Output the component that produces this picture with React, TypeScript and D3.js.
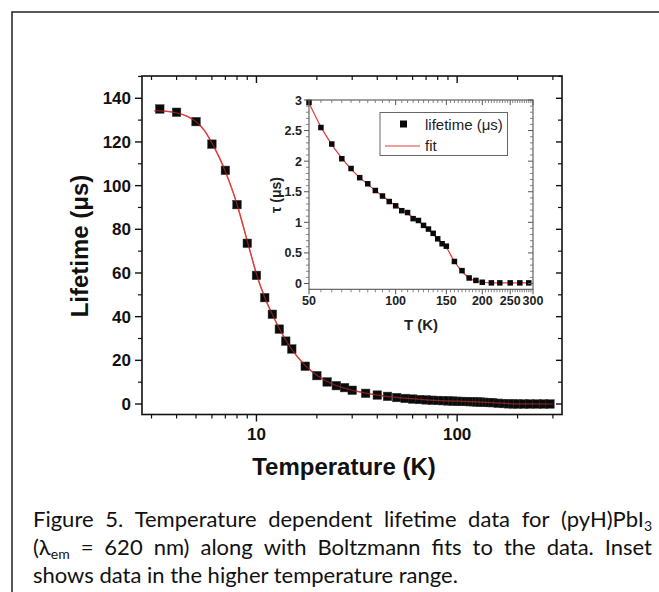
import React from 'react';
import * as d3 from 'd3';

// ---- Data ----
const lowTemps = [3.3, 4, 5, 6, 7, 8, 9, 10, 11, 12, 13, 14, 15, 17.5, 20, 22.5, 25, 27.5, 30, 35, 40, 45];
const lowLifetimes = [135.1, 133.6, 129.3, 119.0, 107.0, 91.3, 73.6, 58.9, 48.7, 41.1, 34.3, 28.8, 25.2, 17.3, 13.0, 10.1, 8.4, 7.5, 6.3, 4.9, 4.1, 3.5];

const highTemps = [50, 55, 60, 65, 70, 75, 80, 85, 90, 95, 100, 105, 110, 115, 120, 125, 130, 135, 140, 145, 150, 160, 170, 180, 190, 200, 215, 230, 250, 270, 290];
const highLifetimes = [2.96, 2.55, 2.28, 2.04, 1.88, 1.73, 1.63, 1.52, 1.43, 1.34, 1.27, 1.19, 1.16, 1.06, 1.03, 0.95, 0.89, 0.82, 0.73, 0.65, 0.61, 0.36, 0.21, 0.09, 0.05, 0.02, 0.01, 0.01, 0.01, 0.01, 0.01];

const mainFitT = [3.1, 3.5, 4, 4.5, 5, 5.5, 6, 6.5, 7, 7.5, 8, 8.5, 9, 9.5, 10, 11, 12, 13, 14, 15, 17.5, 20, 22.5, 25, 30, 35, 40, 50, 70, 100, 150, 200, 300];
const mainFitV = [134.3, 134.1, 133.3, 131.8, 129.3, 125.3, 119.5, 113.3, 106.5, 99.2, 91.5, 83, 74.6, 66.8, 59.5, 48.8, 41, 34.6, 29.3, 25, 17.6, 13.2, 10.3, 8.5, 6.3, 5, 4.1, 3, 1.9, 1.3, 0.6, 0.05, 0];

const insetFitT = [50, 55, 60, 65, 70, 80, 90, 100, 110, 120, 130, 140, 150, 160, 170, 180, 190, 200, 220, 250, 295];
const insetFitV = [2.95, 2.56, 2.27, 2.05, 1.87, 1.62, 1.43, 1.27, 1.14, 1.02, 0.88, 0.73, 0.59, 0.36, 0.2, 0.09, 0.04, 0.02, 0.01, 0.01, 0.01];

const mainYTicks = [0, 20, 40, 60, 80, 100, 120, 140];
const mainXTicks = [10, 100];
const insetYTicks = [0, 0.5, 1, 1.5, 2, 2.5, 3];
const insetYLabels = ['0', '0.5', '1', '1.5', '2', '2.5', '3'];
const insetXTicks = [50, 100, 150, 200, 250, 300];

type Seg = [string, boolean];
const captionLine1: Seg[][] = [
  [['Figure', false]], [['5.', false]], [['Temperature', false]], [['dependent', false]],
  [['lifetime', false]], [['data', false]], [['for', false]], [['(pyH)PbI', false], ['3', true]],
];
const captionLine2: Seg[][] = [
  [['(λ', false], ['em', true]], [['=', false]], [['620', false]], [['nm)', false]], [['along', false]],
  [['with', false]], [['Boltzmann', false]], [['fits', false]], [['to', false]], [['the', false]],
  [['data.', false]], [['Inset', false]],
];
const captionLine3 = 'shows data in the higher temperature range.';

const FONT = "'Liberation Sans', Arial, sans-serif";
const CAP_FONT = 'Lato';
const CAP_SIZE = 22;
const SUB_SIZE = 14;
const RED = '#e23b35';

let ctx: CanvasRenderingContext2D | null = null;
function measure(text: string, size: number) {
  if (typeof document === 'undefined') return text.length * size * 0.5;
  if (!ctx) ctx = document.createElement('canvas').getContext('2d');
  if (!ctx) return text.length * size * 0.5;
  ctx.font = `${size}px ${CAP_FONT}`;
  return ctx.measureText(text).width;
}

function JustifiedLine({ words, x, y, width }: { words: Seg[][]; x: number; y: number; width: number }) {
  const widths = words.map(w => w.reduce((s, [t, sub]) => s + measure(t, sub ? SUB_SIZE : CAP_SIZE), 0));
  const total = widths.reduce((a, b) => a + b, 0);
  const gap = (width - total) / (words.length - 1);
  let cx = x;
  return (
    <g>
      {words.map((w, i) => {
        const px = cx;
        cx += widths[i] + gap;
        return (
          <text key={i} x={px} y={y}>
            {w.map(([t, sub], j) => (
              <tspan key={j} fontSize={sub ? SUB_SIZE : CAP_SIZE} dy={sub ? 4 : (j > 0 ? -4 : 0)}>{t}</tspan>
            ))}
          </text>
        );
      })}
    </g>
  );
}

export default function App() {
  const x = d3.scaleLog().domain([2.69, 333]).range([142, 562]);
  const y = d3.scaleLinear().domain([-4.8, 150.2]).range([414.5, 76]);
  const xi = d3.scaleLog().domain([50, 300]).range([309, 533]);
  const yi = d3.scaleLinear().domain([-0.095, 3]).range([289.3, 100]);

  const [x0, x1] = x.range();
  const [yb, yt] = y.range();
  const [xi0, xi1] = xi.range();
  const [yib, yit] = yi.range();

  const mainMinorX: number[] = [];
  for (const d of [1, 10, 100]) for (let k = 2; k <= 9; k++) {
    const v = d * k;
    if (v > 2.69 && v < 333 && v !== 10 && v !== 100) mainMinorX.push(v);
  }
  const mainMinorY = d3.range(10, 151, 20);
  const insetMinorX = d3.range(55, 300, 5).filter(v => v % 50 !== 0);
  const insetMinorY = d3.range(0, 31).map(v => v / 10).filter(v => Math.round(v * 10) % 5 !== 0);

  const mainPts = lowTemps.map((t, i) => [t, lowLifetimes[i]]).concat(highTemps.map((t, i) => [t, highLifetimes[i]]));
  const insetPts = highTemps.map((t, i) => [t, highLifetimes[i]]);

  const mainLine = d3.line<number>().x((_, i) => x(mainFitT[i])).y(d => y(d)).curve(d3.curveMonotoneX);
  const insetLine = d3.line<number>().x((_, i) => xi(insetFitT[i])).y(d => yi(d)).curve(d3.curveMonotoneX);

  const ms = 8.5;
  const mi = 5.5;

  return (
    <svg width={659} height={592} style={{ position: 'absolute', left: 0, top: 0, background: '#fff' }}>
      <rect x={0} y={0} width={659} height={592} fill="#fff" />
      <rect x={12} y={12} width={800} height={800} fill="none" stroke="#222" strokeWidth={1.5} />

      {/* ---------- main plot ---------- */}
      <g fontFamily={FONT} fontWeight="bold">
        <path d={mainLine(mainFitV) || ''} fill="none" stroke={RED} strokeWidth={1.4} />
        {mainPts.map(([t, v], i) => (
          <rect key={i} x={x(t) - ms / 2} y={y(v) - ms / 2} width={ms} height={ms} fill="#0a0a0a" stroke="#333" strokeWidth={0.5} />
        ))}
        <path d={mainLine(mainFitV) || ''} fill="none" stroke={RED} strokeWidth={1.2} strokeOpacity={0.55} />

        <rect x={x0} y={yt} width={x1 - x0} height={yb - yt} fill="none" stroke="#111" strokeWidth={1.6} />

        {mainYTicks.map(v => (
          <g key={'ly' + v}>
            <line x1={x0 - 7} x2={x0} y1={y(v)} y2={y(v)} stroke="#111" strokeWidth={1.4} />
            <line x1={x1 - 6} x2={x1} y1={y(v)} y2={y(v)} stroke="#111" strokeWidth={1.4} />
            <text x={x0 - 11} y={y(v)} dy="0.36em" textAnchor="end" fontSize={17} fill="#111">{v}</text>
          </g>
        ))}
        {mainMinorY.map(v => (
          <g key={'lmy' + v}>
            <line x1={x0 - 4} x2={x0} y1={y(v)} y2={y(v)} stroke="#111" strokeWidth={1.2} />
            <line x1={x1 - 4} x2={x1} y1={y(v)} y2={y(v)} stroke="#111" strokeWidth={1.2} />
          </g>
        ))}
        {mainXTicks.map(v => (
          <g key={'bx' + v}>
            <line x1={x(v)} x2={x(v)} y1={yb} y2={yb + 7} stroke="#111" strokeWidth={1.4} />
            <line x1={x(v)} x2={x(v)} y1={yt} y2={yt + 7} stroke="#111" strokeWidth={1.4} />
            <text x={x(v)} y={yb + 25} textAnchor="middle" fontSize={17} fill="#111">{v}</text>
          </g>
        ))}
        {mainMinorX.map(v => (
          <g key={'bmx' + v}>
            <line x1={x(v)} x2={x(v)} y1={yb} y2={yb + 4} stroke="#111" strokeWidth={1.2} />
            <line x1={x(v)} x2={x(v)} y1={yt} y2={yt + 4} stroke="#111" strokeWidth={1.2} />
          </g>
        ))}
        <text x={(x0 + x1) / 2 - 8} y={475} textAnchor="middle" fontSize={24} fill="#111">Temperature (K)</text>
        <text transform={`translate(88,246) rotate(-90)`} textAnchor="middle" fontSize={24} fill="#111">Lifetime (μs)</text>
      </g>

      {/* ---------- inset ---------- */}
      <g fontFamily={FONT}>
        <rect x={xi0} y={yit} width={xi1 - xi0} height={yib - yit} fill="#fff" />
        <path d={insetLine(insetFitV) || ''} fill="none" stroke={RED} strokeWidth={1.2} />
        {insetPts.map(([t, v], i) => (
          <rect key={i} x={xi(t) - mi / 2} y={yi(v) - mi / 2} width={mi} height={mi} fill="#0a0a0a" />
        ))}
        <rect x={xi0} y={yit} width={xi1 - xi0} height={yib - yit} fill="none" stroke="#555" strokeWidth={1.1} />

        {insetYTicks.map((v, i) => (
          <g key={'iy' + v}>
            <line x1={xi0 - 5} x2={xi0} y1={yi(v)} y2={yi(v)} stroke="#555" strokeWidth={1} />
            <line x1={xi1 - 5} x2={xi1} y1={yi(v)} y2={yi(v)} stroke="#555" strokeWidth={1} />
            <text x={xi0 - 7} y={yi(v)} dy="0.36em" textAnchor="end" fontSize={12.5} fontWeight="bold" fill="#222">{insetYLabels[i]}</text>
          </g>
        ))}
        {insetMinorY.map(v => (
          <g key={'imy' + v}>
            <line x1={xi0 - 3} x2={xi0} y1={yi(v)} y2={yi(v)} stroke="#666" strokeWidth={0.8} />
            <line x1={xi1 - 3} x2={xi1} y1={yi(v)} y2={yi(v)} stroke="#666" strokeWidth={0.8} />
          </g>
        ))}
        {insetXTicks.map(v => (
          <g key={'ix' + v}>
            <line x1={xi(v)} x2={xi(v)} y1={yib} y2={yib + 5} stroke="#555" strokeWidth={1} />
            <line x1={xi(v)} x2={xi(v)} y1={yit} y2={yit + 5} stroke="#555" strokeWidth={1} />
            <text x={xi(v)} y={yib + 16} textAnchor="middle" fontSize={12.5} fontWeight="bold" fill="#222">{v}</text>
          </g>
        ))}
        {insetMinorX.map(v => (
          <g key={'imx' + v}>
            <line x1={xi(v)} x2={xi(v)} y1={yib} y2={yib + 3} stroke="#666" strokeWidth={0.8} />
            <line x1={xi(v)} x2={xi(v)} y1={yit} y2={yit + 3} stroke="#666" strokeWidth={0.8} />
          </g>
        ))}
        <text x={(xi0 + xi1) / 2} y={330} textAnchor="middle" fontSize={15} fontWeight="bold" fill="#222">T (K)</text>
        <text transform={`translate(281,195) rotate(-90)`} textAnchor="middle" fontSize={14} fontWeight="bold" fill="#222">τ (μs)</text>

        <rect x={380} y={112.5} width={127.5} height={43} fill="#fff" stroke="#666" strokeWidth={1} />
        <rect x={403.5 - 3.5} y={124 - 3.5} width={7} height={7} fill="#0a0a0a" />
        <text x={425} y={129.5} fontSize={15} fill="#222">lifetime (μs)</text>
        <line x1={385} x2={420} y1={146} y2={146} stroke={RED} strokeWidth={1.2} />
        <text x={425} y={151} fontSize={15} fill="#222">fit</text>
      </g>

      {/* ---------- caption ---------- */}
      <g fontFamily={CAP_FONT} fontSize={CAP_SIZE} fill="#111">
        <JustifiedLine words={captionLine1} x={33} y={527} width={619} />
        <JustifiedLine words={captionLine2} x={33} y={555} width={619} />
        <text x={33} y={583}>{captionLine3}</text>
      </g>
    </svg>
  );
}
